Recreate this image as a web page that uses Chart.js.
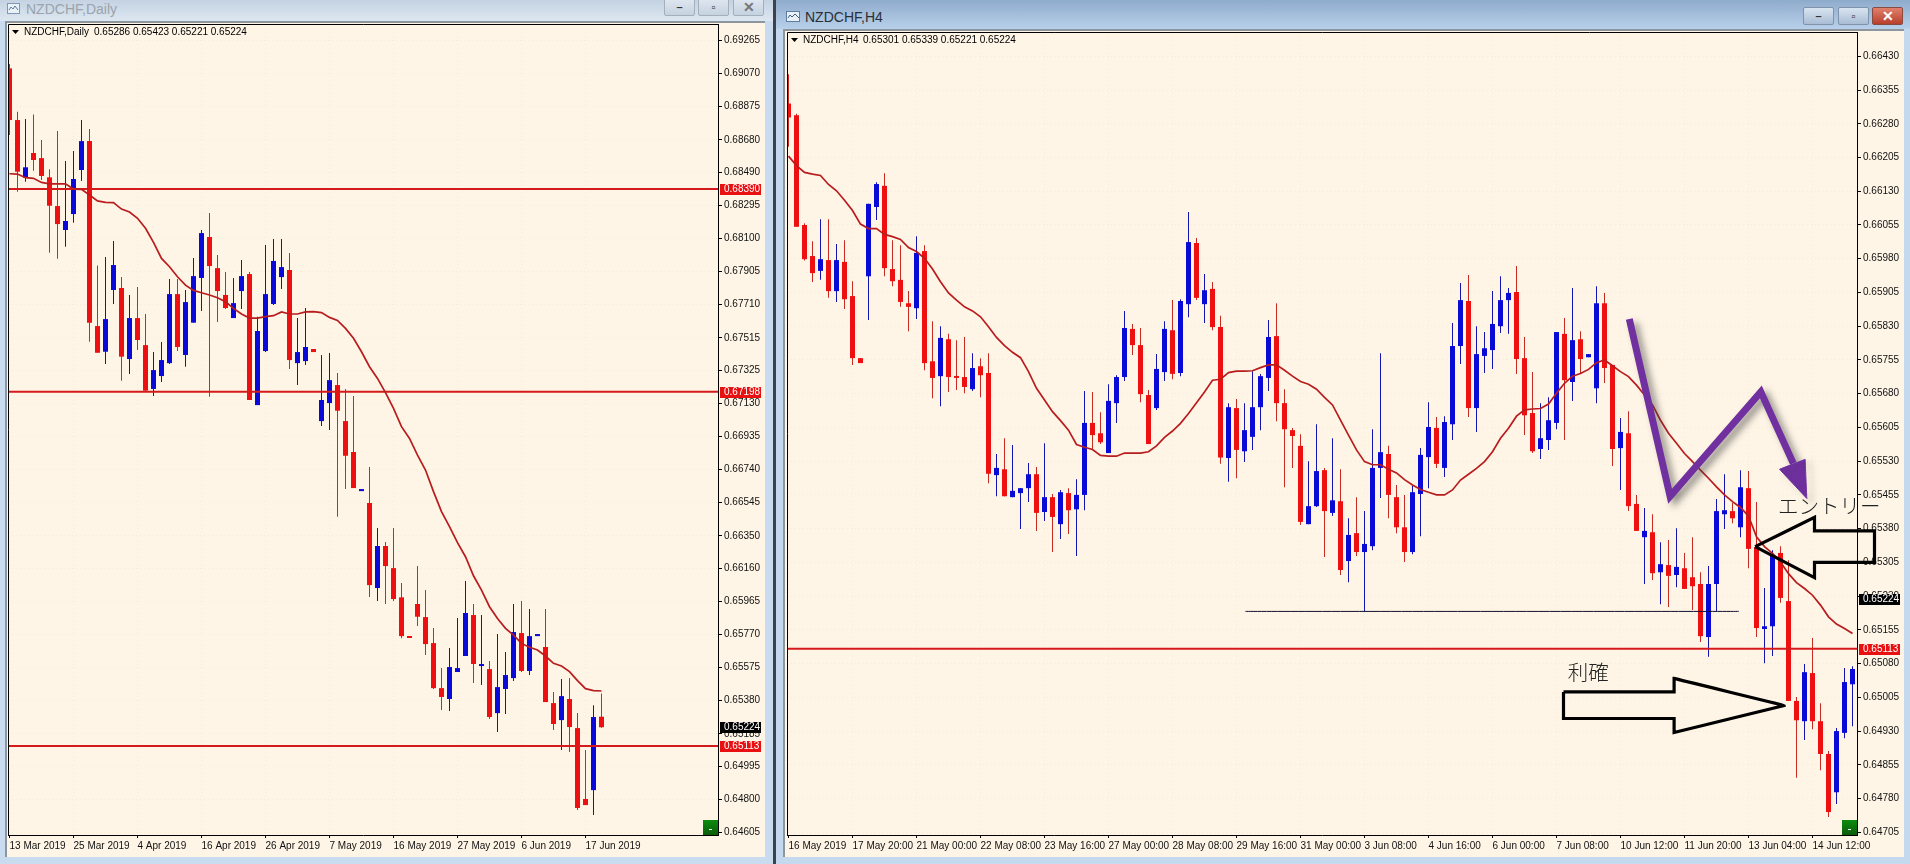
<!DOCTYPE html>
<html>
<head>
<meta charset="utf-8">
<title>NZDCHF</title>
<script src="https://cdn.jsdelivr.net/npm/chart.js@4/dist/chart.umd.min.js"></script>
<style>
  html, body { margin: 0; padding: 0; width: 1910px; height: 864px; overflow: hidden; background: #d4e3f3; }
  div, canvas, svg { position: absolute; }
  .client { background: #fef5e6; border-style: solid; border-color: #8d959d; border-width: 2px 0 0 2px; box-sizing: border-box; }
  .caption { font: 13px "Liberation Sans", sans-serif; white-space: nowrap; }
  .btn { box-sizing: border-box; border: 1px solid #7f93aa; border-radius: 2px; background: linear-gradient(#d9e4f0, #a9bdd4); }
  .btn.off { border-color: #a4afbb; background: linear-gradient(#dfe7f0, #c5d2e0); }
  .btn.close { border-color: #8a4a40; background: linear-gradient(#e0806c, #b8402c); color: #fff; }
  .btn span { position: absolute; left: 0; right: 0; top: 50%; transform: translateY(-50%); text-align: center; font: bold 11px "Liberation Sans", sans-serif; color: #333; }
  .btn.close span { color: #fff; font-size: 14px; }
</style>
</head>
<body>
<!-- left window -->
<div style="left:0;top:0;width:773px;height:21px;background:linear-gradient(#c4d2e2,#dde7f1)"></div>
<div style="left:0;top:21px;width:773px;height:843px;background:#c9dbee"></div>
<div class="client" style="left:5px;top:21px;width:760px;height:836px"></div>
<svg style="left:7px;top:2px" width="14" height="13"><rect x="0.5" y="1.5" width="12" height="10" fill="#e8f0f8" stroke="#7d98b8"/><path d="M2 8l2-3 2 2 2-3 3 4" fill="none" stroke="#5f7da0"/></svg>
<div class="caption" style="left:26px;top:1px;color:#9aa3ac;font-size:14px">NZDCHF,Daily</div>
<div class="btn off" style="left:664px;top:-2px;width:31px;height:18px"><span>–</span></div>
<div class="btn off" style="left:698px;top:-2px;width:31px;height:18px"><span>▫</span></div>
<div class="btn off" style="left:733px;top:-2px;width:31px;height:18px"><span style="font-size:14px;color:#777">✕</span></div>
<!-- right window -->
<div style="left:773px;top:0;width:3px;height:864px;background:#3d4248"></div>
<div style="left:776px;top:0;width:1134px;height:29px;background:linear-gradient(#8fabcc,#b8d0ea)"></div>
<div style="left:776px;top:29px;width:1134px;height:835px;background:#c4d8ee"></div>
<div class="client" style="left:783px;top:29px;width:1121px;height:828px"></div>
<svg style="left:786px;top:10px" width="15" height="13"><rect x="0.5" y="1.5" width="13" height="10" fill="#e8f0f8" stroke="#5f7da0"/><path d="M2 8l2-3 2 2 3-3 4 4" fill="none" stroke="#3f5d80"/></svg>
<div class="caption" style="left:805px;top:9px;color:#2a2f35;font-size:14px">NZDCHF,H4</div>
<div class="btn" style="left:1803px;top:7px;width:31px;height:18px"><span>–</span></div>
<div class="btn" style="left:1838px;top:7px;width:31px;height:18px"><span>▫</span></div>
<div class="btn close" style="left:1872px;top:7px;width:31px;height:18px"><span>✕</span></div>

<canvas id="chart-daily" width="758" height="832" style="left:7px;top:23px"></canvas>
<canvas id="chart-h4" width="1120" height="824" style="left:786px;top:31px"></canvas>

<script>
// Prices are kept in points (1 point = 0.00001)

// ── Daily candles ──────────────────────────────────────────────
const dailyOpen = [
  69100,68796,68457,68602,68572,68459,68290,68149,68243,68502,
  68672,67584,67433,67796,67808,67390,67631,67472,67214,67290,
  67366,67772,67414,67604,67867,68108,67925,67767,67631,67790,
  67890,67119,67437,67714,67872,67914,67366,67378,67449,67025,
  67131,67237,67025,66843,66613,66543,66043,66290,66160,65988,
  65758,65949,65872,65719,65454,65390,65549,65643,65884,65584,
  65566,65307,65449,65513,65778,65555,65760,65696,65366,65266,
  65390,65219,64802,64854,65286];
const dailyHigh = [
  69125,68845,68802,68829,68678,68506,68731,68555,68614,68796,
  68743,67941,67990,68084,67872,67767,67814,67655,67431,67490,
  67861,67861,67796,67984,68149,68249,68002,67902,67867,67972,
  67902,67639,68061,68096,68096,68014,67631,67690,67449,67414,
  67425,67308,67214,67172,66625,66755,66396,66313,66396,66072,
  65758,66172,66031,65808,65572,65690,65866,66084,65949,65884,
  65613,65772,65666,65949,65966,65919,65772,65919,65431,65507,
  65513,65307,65090,65354,65423];
const dailyLow = [
  68708,68374,68433,68498,68443,68016,67980,68051,68192,68437,
  67492,67427,67361,67714,67263,67302,67443,67204,67172,67255,
  67361,67437,67345,67604,67672,67168,67608,67684,67631,67684,
  67149,67119,67431,67708,67802,67331,67237,67355,67431,66996,
  66972,66462,66625,66631,66613,65990,65966,65949,65966,65747,
  65749,65819,65649,65449,65325,65319,65549,65643,65484,65472,
  65272,65196,65302,65496,65549,65531,65760,65372,65207,65090,
  65078,64737,64766,64707,65221];
const dailyClose = [
  68796,68492,68518,68561,68467,68292,68184,68202,68449,68672,
  67604,67427,67625,67943,67404,67631,67502,67204,67325,67384,
  67772,67461,67725,67878,68131,67937,67790,67690,67719,67878,
  67149,67555,67772,67967,67931,67384,67431,67461,67431,67149,
  67266,67086,66821,66631,66625,66060,66290,66172,65978,65760,
  65749,65874,65713,65454,65402,65578,65572,65896,65596,65590,
  65284,65460,65531,65784,65555,65760,65772,65372,65243,65407,
  65225,64749,64766,65284,65224];
const dailyMa = [
  68480,68478,68457,68453,68429,68421,68421,68421,68390,68388,
  68355,68320,68312,68310,68272,68255,68218,68159,68076,67982,
  67933,67874,67825,67794,67780,67767,67751,67727,67688,67655,
  67631,67631,67639,67645,67667,67655,67655,67667,67669,67663,
  67635,67617,67570,67512,67433,67345,67276,67192,67100,66992,
  66923,66825,66737,66610,66492,66404,66310,66227,66115,66031,
  65933,65864,65806,65766,65717,65694,65678,65643,65600,65584,
  65551,65498,65451,65439,65437];
const dailyLevels = [68390, 67198, 65113];
const dailyTicks = [
  69265,69070,68875,68680,68490,68295,68100,67905,67710,67515,67325,67130,
  66935,66740,66545,66350,66160,65965,65770,65575,65380,65185,64995,64800,64605];
const dailyDates = ['13 Mar 2019','25 Mar 2019','4 Apr 2019','16 Apr 2019','26 Apr 2019',
  '7 May 2019','16 May 2019','27 May 2019','6 Jun 2019','17 Jun 2019'];

// ── H4 candles ─────────────────────────────────────────────────
const h4Open = [
  66325,66299,66055,65986,65953,65977,65908,65973,65897,65759,
  65941,66095,66142,65957,65933,65881,65870,65997,65752,65719,
  65801,65719,65717,65690,65741,65726,65499,65512,65450,65459,
  65470,65501,65417,65450,65390,65459,65423,65455,65615,65592,
  65548,65659,65717,65824,65788,65677,65648,65728,65821,65726,
  65879,66015,65879,65913,65828,65537,65648,65552,65584,65650,
  65715,65808,65659,65599,65564,65390,65430,65510,65415,65441,
  65308,65370,65328,65341,65515,65546,65450,65383,65328,65457,
  65539,65604,65515,65612,65786,65886,65648,65764,65777,65830,
  65888,65906,65759,65637,65557,65577,65615,65813,65706,65801,
  65761,65692,65881,65744,65559,65592,65435,65361,65372,65283,
  65299,65277,65292,65272,65257,65139,65257,65412,65419,65383,
  65470,65339,65157,65163,65326,65219,64997,64952,65059,64952,
  64879,64794,64926,65034];
const h4High = [
  66390,66302,66059,66019,66068,66068,66013,66021,65930,65759,
  66102,66150,66170,66021,66010,65908,66030,66010,65841,65830,
  65813,65799,65806,65770,65759,65770,65546,65581,65566,65470,
  65526,65517,65570,65457,65466,65470,65490,65686,65684,65639,
  65701,65721,65864,65835,65826,65688,65768,65841,65888,65890,
  66084,66026,65946,65928,65853,65659,65668,65659,65730,65724,
  65844,65881,65690,65604,65590,65530,65612,65515,65581,65512,
  65403,65450,65419,65601,65770,65564,65477,65455,65477,65559,
  65661,65628,65630,65837,65926,65944,65830,65817,65908,65941,
  65915,65964,65806,65728,65659,65672,65817,65848,65915,65819,
  65768,65919,65904,65744,65626,65641,65455,65426,65412,65350,
  65355,65381,65326,65361,65283,65297,65446,65501,65437,65510,
  65508,65439,65248,65332,65341,65310,65006,65079,65137,64992,
  64886,64937,65070,65074];
const h4Low = [
  66229,66051,65976,65928,65933,65893,65884,65868,65744,65748,
  65844,66066,65941,65919,65873,65819,65846,65732,65670,65652,
  65684,65688,65681,65686,65672,65481,65452,65452,65450,65379,
  65439,65375,65397,65328,65357,65368,65319,65421,65555,65568,
  65548,65615,65708,65766,65661,65568,65644,65708,65712,65719,
  65850,65888,65837,65821,65524,65484,65492,65528,65555,65599,
  65686,65619,65472,65515,65388,65390,65428,65317,65408,65277,
  65261,65319,65197,65332,65448,65403,65370,65306,65323,65363,
  65470,65515,65495,65577,65746,65628,65595,65726,65735,65815,
  65813,65724,65588,65548,65535,65555,65601,65577,65664,65724,
  65761,65659,65704,65519,65466,65419,65375,65257,65266,65212,
  65206,65250,65246,65199,65128,65095,65197,65379,65392,65361,
  65292,65139,65081,65097,65215,64997,64826,64910,64934,64843,
  64739,64768,64914,64941];
const h4Close = [
  66294,66051,65979,65948,65979,65908,65977,65890,65759,65748,
  66102,66146,65959,65930,65884,65873,65993,65748,65715,65804,
  65717,65715,65695,65737,65721,65502,65515,65452,65464,65470,
  65501,65415,65450,65406,65461,65421,65455,65615,65588,65572,
  65664,65717,65826,65788,65679,65568,65735,65824,65724,65886,
  66017,65893,65910,65828,65538,65650,65555,65599,65650,65719,
  65806,65659,65601,65586,65395,65430,65508,65419,65443,65288,
  65366,65328,65346,65515,65550,65455,65383,65328,65461,65544,
  65606,65524,65617,65786,65888,65648,65768,65781,65835,65888,
  65904,65757,65632,65552,65581,65621,65817,65710,65799,65757,
  65768,65881,65737,65557,65595,65430,65375,65375,65281,65301,
  65275,65295,65246,65252,65141,65257,65419,65421,65403,65472,
  65335,65159,65163,65321,65226,64997,64954,65061,64952,64879,
  64750,64930,65039,65068];
const h4Ma = [
  66208,66187,66172,66168,66165,66145,66131,66110,66087,66057,
  66047,66047,66034,66029,66023,66005,65996,65981,65957,65929,
  65904,65888,65873,65864,65851,65829,65805,65787,65772,65760,
  65729,65692,65666,65640,65620,65599,65567,65561,65556,65543,
  65541,65541,65548,65548,65548,65551,65564,65583,65597,65614,
  65636,65660,65684,65710,65712,65727,65730,65730,65731,65738,
  65744,65744,65732,65719,65707,65701,65690,65672,65655,65621,
  65588,65555,65529,65522,65522,65512,65504,65489,65477,65467,
  65461,65455,65455,65466,65488,65501,65514,65529,65551,65581,
  65603,65630,65644,65646,65647,65657,65681,65703,65719,65725,
  65734,65749,65755,65742,65729,65718,65699,65677,65655,65621,
  65592,65570,65547,65529,65510,65492,65473,65455,65440,65427,
  65408,65362,65340,65325,65306,65280,65260,65247,65232,65210,
  65184,65168,65158,65147];
const h4Levels = [65113];
const h4Ticks = [
  66430,66355,66280,66205,66130,66055,65980,65905,65830,65755,65680,65605,
  65530,65455,65380,65305,65230,65155,65080,65005,64930,64855,64780,64705];
const h4Dates = ['16 May 2019','17 May 20:00','21 May 00:00','22 May 08:00','23 May 16:00',
  '27 May 00:00','28 May 08:00','29 May 16:00','31 May 00:00','3 Jun 08:00','4 Jun 16:00',
  '6 Jun 00:00','7 Jun 08:00','10 Jun 12:00','11 Jun 20:00','13 Jun 04:00','14 Jun 12:00'];

// ── Hand drawn marks on the H4 chart (bar index, points) ───────
const supportX = [57.1, 118.8];
const supportY = [65196, 65196];
const zigzagX = [105.1, 110.2, 121.54, 125.6];
const zigzagY = [65846, 65452, 65684, 65525];
const arrowHeadX = [123.875, 127.08, 127.29, 123.875];
const arrowHeadY = [65512, 65534, 65447, 65512];
const entryArrowX = [120.83, 128.25, 128.25, 135.75, 135.75, 128.25, 128.25, 120.83];
const entryArrowY = [65340, 65405, 65375, 65375, 65305, 65305, 65271, 65340];
const exitArrowX = [96.875, 110.7, 110.7, 124.46, 110.7, 110.7, 96.875, 96.875];
const exitArrowY = [65017, 65017, 65047, 64987, 64927, 64958, 64958, 65017];
const noteLabels = ['エントリー', '利確'];
const noteX = [123.7, 97.4];
const noteY = [65430, 65061];

// ── Style ──────────────────────────────────────────────────────
const BAR_GAP   = 8;
const RED       = '#ee1010';
const BLUE      = '#0a0ad8';
const WICK_RED  = '#c92a22';
const WICK_BLUE = '#1414b0';
const MA_RED    = '#b81c1e';
const PURPLE    = '#7030a0';
const TICK_FONT = { family: '"Liberation Sans", sans-serif', size: 10 };
const CANVAS_FONT = '10px "Liberation Sans", sans-serif';

const toXY = (xs, ys) => xs.map((x, i) => ({ x, y: ys[i] }));
const fmt  = v => (v / 1e5).toFixed(5);

function pathDataset(xs, ys, extra) {
  return {
    type: 'line', data: toXY(xs, ys), pointRadius: 0, clip: false, fill: false,
    tension: 0.0001, capBezierPoints: false, borderJoinStyle: 'miter', ...extra,
  };
}

// ── Chart plugin: frame, header, price boxes, notes ────────────
const mt4Plugin = {
  id: 'mt4',
  beforeInit(chart) {
    // MT4 labels are narrow, this squeezes Liberation Sans to about the same width
    chart.ctx.letterSpacing = '-0.5px';
  },
  beforeDatasetDraw(chart, args) {
    const ds = chart.data.datasets[args.index];
    if (!ds.softShadow) return;
    const ctx = chart.ctx;
    ctx.save();
    ctx.shadowColor = 'rgba(60,60,60,0.55)';
    ctx.shadowBlur = 7;
    ctx.shadowOffsetX = 5;
    ctx.shadowOffsetY = 4;
  },
  afterDatasetDraw(chart, args) {
    if (chart.data.datasets[args.index].softShadow) chart.ctx.restore();
  },
  afterDatasetsDraw(chart, args, opts) {
    const { ctx, chartArea: a, scales: { x, y } } = chart;
    ctx.save();
    // left and top edge of the plot, the axes draw the other two
    ctx.strokeStyle = '#000';
    ctx.lineWidth = 1;
    ctx.beginPath();
    ctx.moveTo(a.left + 0.5, a.bottom);
    ctx.lineTo(a.left + 0.5, a.top + 0.5);
    ctx.lineTo(a.right, a.top + 0.5);
    ctx.stroke();

    // header
    ctx.fillStyle = '#000';
    ctx.beginPath();
    ctx.moveTo(a.left + 4, a.top + 6);
    ctx.lineTo(a.left + 11, a.top + 6);
    ctx.lineTo(a.left + 7.5, a.top + 10);
    ctx.fill();
    ctx.font = CANVAS_FONT;
    ctx.textBaseline = 'middle';
    ctx.textAlign = 'left';
    ctx.fillText(opts.symbol, a.left + 16, a.top + 8.5);
    ctx.fillText(opts.quotes, a.left + opts.quotesAt, a.top + 8.5);

    // price boxes
    for (const [value, color] of opts.boxes) {
      const py = y.getPixelForValue(value);
      ctx.fillStyle = color;
      ctx.fillRect(a.right + 2, Math.round(py) - 5, 41, 11);
      ctx.fillStyle = '#fff';
      ctx.fillText(fmt(value), a.right + 6, Math.round(py) + 0.5);
    }

    // little green button in the corner
    const g = ctx.createLinearGradient(0, a.bottom - 15, 0, a.bottom);
    g.addColorStop(0, '#0c8c0c');
    g.addColorStop(1, '#0a5c0a');
    ctx.fillStyle = g;
    ctx.fillRect(a.right - 15, a.bottom - 15, 15, 15);
    ctx.fillStyle = '#fff';
    ctx.fillRect(a.right - 9, a.bottom - 6, 3, 1);

    // notes
    ctx.fillStyle = '#222';
    ctx.letterSpacing = '0px';
    ctx.font = '300 20.5px "Noto Sans CJK JP", sans-serif';
    (opts.notes || []).forEach(n => {
      ctx.fillText(n.text, x.getPixelForValue(n.x), y.getPixelForValue(n.y));
    });
    ctx.restore();
  },
};

// ── Chart builder ──────────────────────────────────────────────
function buildChart(id, s) {
  const xMin = s.xMin, xMax = s.xMax;
  const up = s.close.map((c, i) => c >= s.open[i]);
  const datasets = [
    {
      data: s.low.map((l, i) => ({ x: i, y: [l, s.high[i]] })),
      backgroundColor: up.map(u => u ? WICK_BLUE : WICK_RED),
      barThickness: 1, grouped: false, inflateAmount: 0, borderWidth: 0, order: 11,
    },
    {
      data: s.open.map((o, i) => ({ x: i, y: [o, s.close[i]] })),
      backgroundColor: up.map(u => u ? BLUE : RED),
      barThickness: 5, minBarLength: 2, grouped: false, inflateAmount: 0, borderWidth: 0, order: 10,
    },
    ...s.levels.map(v => ({
      type: 'line', data: [{ x: xMin, y: v }, { x: xMax, y: v }],
      borderColor: '#d41a1a', borderWidth: 2, pointRadius: 0, order: 9,
    })),
    {
      type: 'line', data: toXY(s.open.map((_, i) => i), s.ma),
      borderColor: MA_RED, borderWidth: 1.7, pointRadius: 0, order: 8,
    },
    ...(s.extra || []),
  ];
  return new Chart(document.getElementById(id), {
    type: 'bar',
    data: { datasets },
    plugins: [mt4Plugin],
    options: {
      responsive: false,
      animation: false,
      events: [],
      layout: { autoPadding: false, padding: { left: 1, top: 1, right: 0, bottom: 0 } },
      plugins: {
        legend: { display: false },
        tooltip: { enabled: false },
        mt4: s.overlay,
      },
      scales: {
        x: {
          type: 'linear', min: xMin, max: xMax, offset: false,
          // fixed axis sizes, and no room kept for half a label at the ends
          afterFit: sc => { sc.height = 20; sc.paddingLeft = 0; sc.paddingRight = 0; },
          afterBuildTicks: sc => { sc.ticks = s.dates.map((_, k) => ({ value: k * BAR_GAP })); },
          grid: { offset: false, color: '#f8ebd6', tickColor: '#000', tickLength: 3 },
          border: { color: '#000', dash: [1, 3] },
          ticks: {
            callback: v => s.dates[v / BAR_GAP], align: 'start', autoSkip: false,
            maxRotation: 0, color: '#111', font: TICK_FONT, padding: 2,
          },
        },
        y: {
          position: 'right', min: s.yMin, max: s.yMax, beginAtZero: false,
          afterFit: sc => { sc.width = s.axisWidth; sc.paddingTop = 0; sc.paddingBottom = 0; },
          afterBuildTicks: sc => { sc.ticks = s.ticks.map(value => ({ value })); },
          grid: { color: '#f8ebd6', tickColor: '#000', tickLength: 4 },
          border: { color: '#000', dash: [1, 3] },
          ticks: { callback: fmt, autoSkip: false, color: '#111', font: TICK_FONT, padding: 2 },
        },
      },
    },
  });
}

// ── Render ─────────────────────────────────────────────────────
buildChart('chart-daily', {
  open: dailyOpen, high: dailyHigh, low: dailyLow, close: dailyClose, ma: dailyMa,
  levels: dailyLevels, ticks: dailyTicks, dates: dailyDates,
  xMin: -0.1875, xMax: 88.5625, yMin: 64590, yMax: 69361, axisWidth: 47,
  overlay: {
    symbol: 'NZDCHF,Daily', quotes: '0.65286 0.65423 0.65221 0.65224', quotesAt: 86,
    boxes: [[68390, '#e81010'], [67198, '#e81010'], [65224, '#000'], [65113, '#e81010']],
  },
});

buildChart('chart-h4', {
  open: h4Open, high: h4High, low: h4Low, close: h4Close, ma: h4Ma,
  levels: h4Levels, ticks: h4Ticks, dates: h4Dates,
  xMin: -0.1875, xMax: 133.5625, yMin: 64699, yMax: 66484, axisWidth: 49,
  overlay: {
    symbol: 'NZDCHF,H4', quotes: '0.65301 0.65339 0.65221 0.65224', quotesAt: 76,
    boxes: [[65224, '#000'], [65113, '#e81010']],
    notes: noteLabels.map((text, i) => ({ text, x: noteX[i], y: noteY[i] })),
  },
  extra: [
    pathDataset(supportX, supportY, { borderColor: '#101030', borderWidth: 1, order: 5 }),
    pathDataset(zigzagX, zigzagY, { borderColor: PURPLE, borderWidth: 7, order: 3, softShadow: true }),
    pathDataset(arrowHeadX, arrowHeadY, {
      borderColor: PURPLE, backgroundColor: PURPLE, borderWidth: 1, fill: 'shape', order: 2, softShadow: true,
    }),
    pathDataset(entryArrowX, entryArrowY, { borderColor: '#000', borderWidth: 3.2, order: 1 }),
    pathDataset(exitArrowX, exitArrowY, { borderColor: '#000', borderWidth: 3.2, order: 1 }),
  ],
});
</script>
</body>
</html>
